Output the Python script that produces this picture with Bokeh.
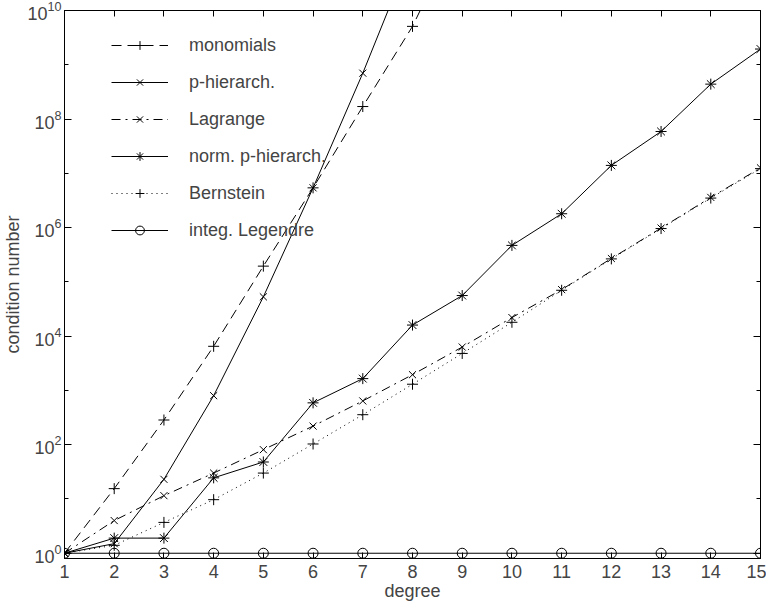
from bokeh.plotting import figure
from bokeh.models import (FixedTicker, LinearAxis, LogAxis, Legend, LegendItem,
                          Range1d, CustomJSTickFormatter)
from bokeh.embed import file_html
from bokeh.resources import INLINE

# ---------------- data ----------------
degree = list(range(1, 16))

monomials_deg = [1, 2, 3, 4, 5, 6, 7, 8, 9]
monomials = [1, 15.5, 285, 6.5e3, 1.95e5, 5.4e6, 1.7e8, 5.1e9, 4.0e11]

phier_deg = [1, 2, 3, 4, 5, 6, 7, 8]
p_hierarch = [1, 1.5, 23, 800, 5.3e4, 5.4e6, 7.0e8, 1.3e11]

lagrange = [1, 4.0, 11.5, 30, 81, 220, 640, 1.95e3, 6.3e3, 2.2e4,
            7.2e4, 2.7e5, 9.8e5, 3.6e6, 1.26e7]

norm_p_hierarch = [1, 1.9, 1.9, 24.5, 48, 590, 1.65e3, 1.6e4, 5.6e4, 4.7e5,
                   1.8e6, 1.4e7, 5.9e7, 4.4e8, 1.95e9]

bernstein = [1, 1.4, 3.7, 9.7, 30, 103, 357, 1.3e3, 4.8e3, 1.8e4,
             7.0e4, 2.65e5, 9.6e5, 3.5e6, 1.22e7]

integ_legendre = [1] * 15

y_major = [1e0, 1e2, 1e4, 1e6, 1e8, 1e10]
y_minor = [1e1, 1e3, 1e5, 1e7, 1e9]

FONT = "Liberation Sans"
FS = "18px"

p = figure(frame_width=696, frame_height=548, y_axis_type="log",
           x_range=Range1d(1, 15), y_range=Range1d(0.8, 1e10),
           output_backend="svg", toolbar_location=None,
           min_border_left=58, min_border_right=6, min_border_top=10,
           min_border_bottom=40, background_fill_color="white",
           border_fill_color="white")
p.xgrid.visible = False
p.ygrid.visible = False
p.outline_line_color = "black"
p.outline_line_width = 1

# bottom axis
xa = p.xaxis[0]
xa.ticker = FixedTicker(ticks=degree)
xa.major_tick_in = 6
xa.major_tick_out = 0
xa.minor_tick_line_color = None
xa.axis_label = "degree"
xa.axis_label_text_font = FONT
xa.axis_label_text_font_size = FS
xa.axis_label_text_font_style = "normal"
xa.axis_label_standoff = 0
xa.major_label_text_font = FONT
xa.major_label_text_font_size = FS
xa.major_label_standoff = 6
xa.axis_line_color = "black"

# left axis
ya = p.yaxis[0]
ya.ticker = FixedTicker(ticks=y_major, minor_ticks=y_minor)
ya.major_tick_in = 7
ya.major_tick_out = 0
ya.minor_tick_in = 4
ya.minor_tick_out = 0
ya.axis_label = "condition number"
ya.axis_label_text_font = FONT
ya.axis_label_text_font_size = FS
ya.axis_label_text_font_style = "normal"
ya.axis_label_standoff = 1
ya.major_label_text_font = FONT
ya.major_label_text_font_size = FS
ya.major_label_standoff = 3

blank = CustomJSTickFormatter(code="return ''")
top = LinearAxis(ticker=FixedTicker(ticks=degree), formatter=blank,
                 major_tick_in=6, major_tick_out=0,
                 minor_tick_line_color=None, major_label_standoff=0,
                 major_label_text_font_size="0px")
p.add_layout(top, "above")
right = LogAxis(ticker=FixedTicker(ticks=y_major, minor_ticks=y_minor),
                formatter=blank, major_tick_in=7, major_tick_out=0,
                minor_tick_in=4, minor_tick_out=0, major_label_standoff=0,
                major_label_text_font_size="0px")
p.add_layout(right, "right")

# ---------------- series ----------------
items = []

def series(xs, ys, marker, size, dash, label):
    l = p.line(xs, ys, line_color="black", line_width=1, line_dash=dash)
    s = p.scatter(xs, ys, marker=marker, size=size, line_color="black",
                  fill_color=None, line_width=1)
    items.append(LegendItem(label=label, renderers=[l, s]))

series(monomials_deg, monomials, "cross", 11, "10 6", "monomials")
series(phier_deg, p_hierarch, "x", 10, "solid", "p-hierarch.")
series(degree, lagrange, "x", 10, "9 5 2 5", "Lagrange")
series(degree, norm_p_hierarch, "asterisk", 11, "solid", "norm. p-hierarch.")
series(degree, bernstein, "cross", 11, "1 4", "Bernstein")
series(degree, integ_legendre, "circle", 10, "solid", "integ. Legendre")

legend = Legend(items=items, location=(47, 317), glyph_width=57,
                glyph_height=22, label_height=22, spacing=15,
                label_standoff=21, padding=0, margin=0,
                border_line_color=None, background_fill_alpha=0,
                label_text_font=FONT, label_text_font_size=FS)
p.add_layout(legend)

open("out.html", "w").write(file_html(p, INLINE))
